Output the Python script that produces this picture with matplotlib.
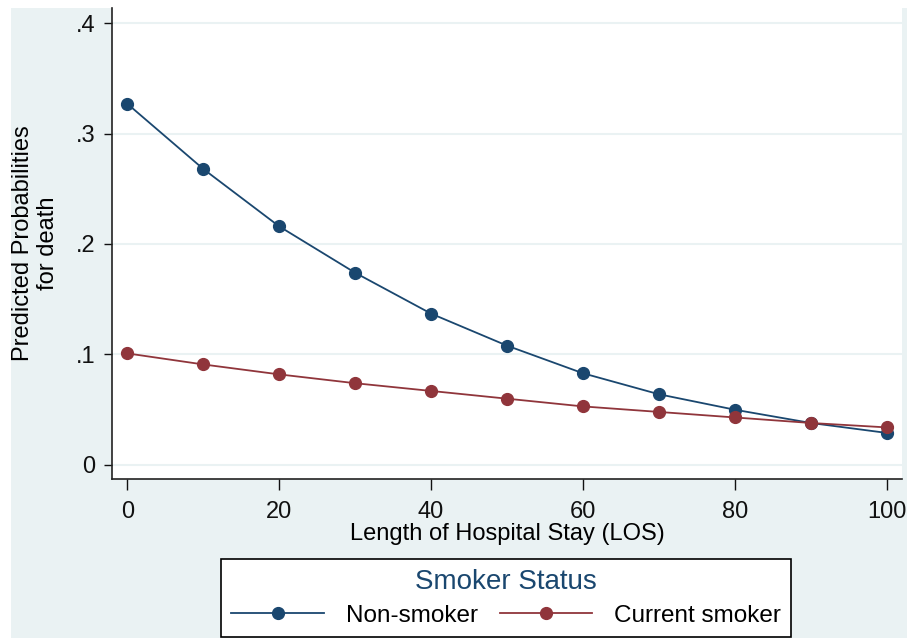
import numpy as np
import matplotlib.pyplot as plt
from matplotlib.patches import Rectangle

# ===== DATOS =====

los = [0, 10, 20, 30, 40, 50, 60, 70, 80, 90, 100]

non_smoker = [0.327, 0.268, 0.216, 0.174, 0.137, 0.108, 0.083, 0.064, 0.050, 0.038, 0.029]
current_smoker = [0.101, 0.091, 0.082, 0.074, 0.067, 0.060, 0.053, 0.048, 0.043, 0.038, 0.034]

y_ticks = [0, 0.1, 0.2, 0.3, 0.4]
y_tick_labels = ["0", ".1", ".2", ".3", ".4"]
x_ticks = [0, 20, 40, 60, 80, 100]

# ===== ESTILO =====

plt.rcParams['font.family'] = ['Liberation Sans', 'DejaVu Sans']

navy = "#1a476f"
maroon = "#90353b"
bg = "#eaf2f3"

W, H = 909, 640
fig = plt.figure(figsize=(W / 100, H / 100), dpi=100, facecolor="white")

# fondo azul claro tipo Stata
fig.patches.append(Rectangle((11 / W, 2 / H), 896 / W, 630 / H,
                             transform=fig.transFigure, facecolor=bg,
                             edgecolor="none", zorder=-10))

ax = fig.add_axes([112 / W, 1 - 479 / H, 790 / W, 471 / H])
ax.set_facecolor("white")

ax.plot(los, non_smoker, color=navy, lw=1.3, marker="o", ms=8.5,
        label="Non-smoker", zorder=3)
ax.plot(los, current_smoker, color=maroon, lw=1.3, marker="o", ms=8.5,
        label="Current smoker", zorder=4)

ax.set_xlim(-2, 102)
ax.set_ylim(-0.0127, 0.4136)

ax.set_yticks(y_ticks)
ax.set_yticklabels(y_tick_labels)
ax.set_xticks(x_ticks)

for yv in y_ticks:
    ax.axhline(yv, color=bg, lw=1.5, zorder=1)

for s in ["top", "right"]:
    ax.spines[s].set_visible(False)
for s in ["left", "bottom"]:
    ax.spines[s].set_color("#222222")
    ax.spines[s].set_linewidth(1.2)

ax.tick_params(axis="y", direction="out", length=6, width=1, pad=6,
               labelsize=17, colors="#111111")
ax.tick_params(axis="x", direction="out", length=8, width=1, pad=8,
               labelsize=17, colors="#111111")

ax.set_xlabel("Length of Hospital Stay (LOS)", fontsize=17, labelpad=0)
ax.set_ylabel("Predicted Probabilities\nfor death", fontsize=17, labelpad=12)

# ===== LEYENDA =====

leg = fig.legend(loc="lower center", bbox_to_anchor=(506 / W, 3 / H),
                 borderaxespad=0,
                 ncol=2, title="Smoker Status", fontsize=17.5,
                 title_fontsize=20, frameon=True, fancybox=False,
                 edgecolor="black", facecolor="white", framealpha=1,
                 handlelength=3.8, columnspacing=0.9, borderpad=0.42,
                 handletextpad=0.9, labelspacing=0.2)
leg.get_title().set_color(navy)
leg.get_frame().set_linewidth(1.2)
leg._legend_box.sep = 7

fig.savefig("out.png", dpi=100, facecolor="white")
